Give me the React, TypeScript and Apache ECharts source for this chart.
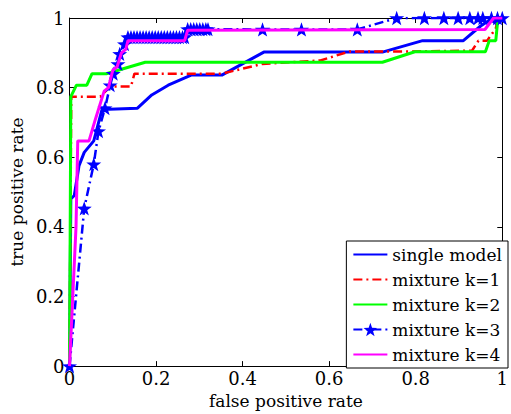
import React, { useEffect, useRef } from "react";
import * as echarts from "echarts";

const seriesNames = ["single model", "mixture k=1", "mixture k=2", "mixture k=3", "mixture k=4"];
const seriesColors = ["#0000ff", "#ff0000", "#00ff00", "#0000ff", "#ff00ff"];
const tickValues = [0, 0.2, 0.4, 0.6, 0.8, 1];

const singleModel: number[][] = [
  [0, 0], [0.003, 0.48], [0.011, 0.49], [0.022, 0.576], [0.034, 0.614], [0.056, 0.647],
  [0.075, 0.737], [0.157, 0.741], [0.19, 0.779], [0.228, 0.807], [0.281, 0.836],
  [0.352, 0.836], [0.449, 0.902], [0.723, 0.902], [0.816, 0.935], [0.91, 0.935],
  [0.95, 0.977], [0.978, 1], [1, 1],
];

const mixtureK1: number[][] = [
  [0, 0], [0.004, 0.774], [0.071, 0.774], [0.094, 0.803], [0.142, 0.803], [0.15, 0.84],
  [0.352, 0.84], [0.445, 0.868], [0.58, 0.878], [0.647, 0.904], [0.79, 0.904],
  [0.93, 0.906], [0.945, 0.935], [0.965, 0.935], [0.985, 0.97], [0.99, 1], [1, 1],
];

const mixtureK2: number[][] = [
  [0, 0], [0.003, 0.774], [0.016, 0.807], [0.04, 0.807], [0.052, 0.84], [0.085, 0.84],
  [0.175, 0.873], [0.723, 0.873], [0.798, 0.903], [0.961, 0.903], [0.97, 0.935],
  [0.985, 0.935], [0.99, 1], [1, 1],
];

const mixtureK3: number[][] = [
  [0, 0], [0.034, 0.453], [0.056, 0.58], [0.067, 0.675], [0.082, 0.741], [0.094, 0.807],
  [0.101, 0.84], [0.112, 0.868], [0.116, 0.897], [0.127, 0.925], [0.135, 0.945],
  [0.142, 0.945], [0.149, 0.945], [0.156, 0.945], [0.163, 0.945], [0.17, 0.945],
  [0.177, 0.945], [0.184, 0.945], [0.191, 0.945], [0.198, 0.945], [0.205, 0.945],
  [0.212, 0.945], [0.219, 0.945], [0.226, 0.945], [0.233, 0.945], [0.24, 0.945],
  [0.247, 0.945], [0.254, 0.945], [0.261, 0.945], [0.266, 0.945],
  [0.273, 0.968], [0.28, 0.968], [0.287, 0.968], [0.294, 0.968], [0.301, 0.968],
  [0.308, 0.968], [0.315, 0.968], [0.32, 0.968],
  [0.446, 0.967], [0.536, 0.967], [0.665, 0.967], [0.756, 1], [0.82, 1], [0.865, 1],
  [0.898, 1], [0.925, 1], [0.944, 1], [0.955, 1], [0.975, 1], [0.989, 1], [1, 1],
];

const mixtureK4: number[][] = [
  [0, 0], [0.015, 0.4], [0.019, 0.647], [0.045, 0.647], [0.06, 0.71], [0.08, 0.79],
  [0.09, 0.8], [0.1, 0.85], [0.11, 0.86], [0.12, 0.9], [0.13, 0.91], [0.135, 0.935],
  [0.266, 0.935], [0.273, 0.965], [0.96, 0.967], [0.98, 1], [1, 1],
];

const STAR =
  "path://M0,-10 L2.35,-3.24 L9.51,-3.09 L3.8,1.24 L5.88,8.09 L0,4 L-5.88,8.09 L-3.8,1.24 L-9.51,-3.09 L-2.35,-3.24 Z";

const FONT = "DejaVu Serif";

export default function App() {
  const ref = useRef<HTMLDivElement>(null);
  useEffect(() => {
    if (!ref.current) return;
    const chart = echarts.init(ref.current, null, { renderer: "svg" });
    const axisCommon = {
      type: "value" as const,
      min: 0,
      max: 1,
      interval: 0.2,
      splitLine: { show: false },
      axisLine: { show: true, onZero: false, lineStyle: { color: "#000", width: 1 } },
      axisTick: { show: true, inside: true, length: 5, lineStyle: { color: "#000" } },
    };
    const fmt = (v: number) => (tickValues.includes(v) ? String(Math.round(v * 10) / 10) : "");
    const datas = [singleModel, mixtureK1, mixtureK2, mixtureK3, mixtureK4];
    const lineTypes: any[] = ["solid", [9, 4, 2, 4], "solid", [9, 4, 2, 4], "solid"];
    chart.setOption({
      animation: false,
      backgroundColor: "#fff",
      textStyle: { fontFamily: FONT },
      grid: { left: 65, right: 3, top: 18, bottom: 46 },
      xAxis: [
        {
          ...axisCommon,
          position: "bottom",
          axisLabel: { show: true, formatter: fmt, color: "#000", fontFamily: FONT, fontSize: 18, margin: 3 },
          name: "false positive rate",
          nameLocation: "middle",
          nameGap: 22,
          nameTextStyle: { color: "#000", fontFamily: FONT, fontSize: 17 },
        },
        { ...axisCommon, position: "top", axisLabel: { show: false } },
      ],
      yAxis: [
        {
          ...axisCommon,
          position: "left",
          axisLabel: { show: true, formatter: fmt, color: "#000", fontFamily: FONT, fontSize: 18, margin: 5 },
          name: "true positive rate",
          nameLocation: "middle",
          nameGap: 34,
          nameRotate: 90,
          nameTextStyle: { color: "#000", fontFamily: FONT, fontSize: 17 },
        },
        { ...axisCommon, position: "right", axisLabel: { show: false } },
      ],
      legend: {
        orient: "vertical",
        right: 3,
        bottom: 46,
        backgroundColor: "#fff",
        borderColor: "#000",
        borderWidth: 1,
        borderRadius: 0,
        padding: [5, 6, 5, 6],
        itemWidth: 34,
        itemHeight: 17,
        itemGap: 8,
        textStyle: { color: "#000", fontFamily: FONT, fontSize: 17 },
        data: seriesNames.map((name, i) =>
          i === 3 ? { name } : { name, itemStyle: { opacity: 0 } }
        ),
      },
      series: seriesNames.map((name, i) => ({
        name,
        type: "line",
        data: datas[i],
        symbol: i === 3 ? STAR : "none",
        symbolSize: 15,
        symbolKeepAspect: true,
        showSymbol: i === 3,
        itemStyle: { color: seriesColors[i] },
        lineStyle: { color: seriesColors[i], width: i === 1 || i === 3 ? 2.5 : 3, type: lineTypes[i] },
        z: 2 + i,
      })),
    });
    return () => chart.dispose();
  }, []);
  return <div ref={ref} style={{ position: "fixed", left: 0, top: 0, width: 511, height: 414 }} />;
}
